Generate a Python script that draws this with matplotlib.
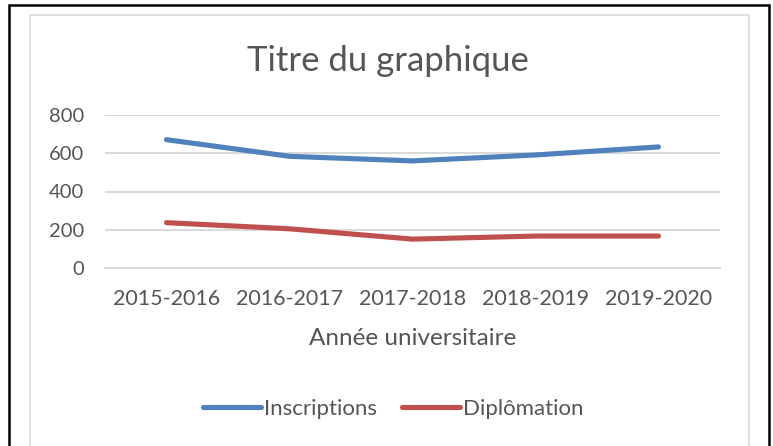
import matplotlib.pyplot as plt
from matplotlib.patches import Rectangle

years = ['2015-2016', '2016-2017', '2017-2018', '2018-2019', '2019-2020']
inscriptions = [671, 584, 560, 591, 633]
diplomation = [237, 205, 151, 167, 167]
y_ticks = [0, 200, 400, 600, 800]

plt.rcParams['font.family'] = ['Lato', 'DejaVu Sans']
text_col = '#555555'
grid_col = '#D9D9D9'

W, H = 773, 446
fig = plt.figure(figsize=(W / 100, H / 100), dpi=100)

# outer frames (image crop: bottom edge is cut off)
fig.patches.append(Rectangle((9 / W, -0.05), 760 / W, 1.05 - 5 / H, transform=fig.transFigure,
                             fill=False, edgecolor='black', linewidth=1.8))
fig.patches.append(Rectangle((30 / W, -0.05), 719 / W, 1.05 - 15 / H, transform=fig.transFigure,
                             fill=False, edgecolor=grid_col, linewidth=1.2))

ax = fig.add_axes([105 / W, 1 - 268 / H, 615 / W, 153 / H])
x = range(len(years))
ax.plot(x, inscriptions, color='#4F81BD', linewidth=3.7, solid_capstyle='round',
        solid_joinstyle='round', label='Inscriptions', zorder=3)
ax.plot(x, diplomation, color='#C0504D', linewidth=3.7, solid_capstyle='round',
        solid_joinstyle='round', label='Diplômation', zorder=3)

ax.set_xlim(-0.5, len(years) - 0.5)
ax.set_ylim(0, 800)
ax.set_yticks(y_ticks)
ax.set_xticks(list(x))
ax.set_xticklabels(years)
ax.yaxis.grid(True, color=grid_col, linewidth=1.4)
ax.set_axisbelow(True)
for s in ['top', 'right', 'left']:
    ax.spines[s].set_visible(False)
ax.spines['bottom'].set_color(grid_col)
ax.spines['bottom'].set_linewidth(1.4)
ax.tick_params(axis='both', length=0, labelcolor=text_col)
ax.tick_params(axis='y', pad=15, labelsize=14.5)
ax.tick_params(axis='x', pad=15, labelsize=15.5)
ax.set_xlabel('Année universitaire', fontsize=17.5, color=text_col, labelpad=14)

fig.text(0.502, 1 - 61 / H, 'Titre du graphique', ha='center', va='center',
         fontsize=25, color=text_col)

fig.legend(loc='center', bbox_to_anchor=(0.509, 1 - 409 / H), ncol=2, frameon=False,
           prop={'size': 16}, labelcolor=text_col, handlelength=2.6, handletextpad=0.12,
           columnspacing=1.15)

fig.savefig('out.png', dpi=100)
